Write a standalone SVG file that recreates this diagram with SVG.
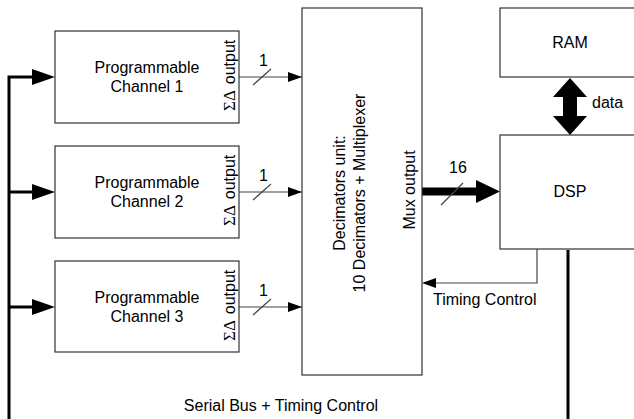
<svg xmlns="http://www.w3.org/2000/svg" width="634" height="419" viewBox="0 0 634 419">
<defs>
<style>
.box{fill:#fff;stroke:#333;stroke-width:1.2}
.t{font-family:"Liberation Sans",Arial,sans-serif;font-size:16px;fill:#000}
.s{font-family:"Liberation Serif","Times New Roman",serif;font-size:17px}
.c{text-anchor:middle}
.thin{fill:none;stroke:#444;stroke-width:1.2}
.bus{fill:none;stroke:#000;stroke-width:3}
</style>
<marker id="ah" markerWidth="14" markerHeight="10" refX="14" refY="5" orient="auto" markerUnits="userSpaceOnUse">
<path d="M0,0 L14,5 L0,10 Z" fill="#000"/>
</marker>
</defs>
<g id="connectors">
<path class="bus" d="M9,419 V77 H40"/>
<path d="M32,69 L55,77 L32,85 Z" fill="#000"/>
<path class="bus" d="M9,192 H40"/>
<path d="M32,184 L55,192 L32,200 Z" fill="#000"/>
<path class="bus" d="M9,307 H40"/>
<path d="M32,299 L55,307 L32,315 Z" fill="#000"/>
<path class="bus" d="M568,250 V419"/>
<line class="thin" x1="239" y1="77" x2="302" y2="77" marker-end="url(#ah)"/>
<line class="thin" x1="253" y1="85" x2="271" y2="69"/>
<text class="t" x="259" y="66">1</text>
<line class="thin" x1="239" y1="192" x2="302" y2="192" marker-end="url(#ah)"/>
<line class="thin" x1="253" y1="200" x2="271" y2="184"/>
<text class="t" x="259" y="181">1</text>
<line class="thin" x1="239" y1="307" x2="302" y2="307" marker-end="url(#ah)"/>
<line class="thin" x1="253" y1="315" x2="271" y2="299"/>
<text class="t" x="259" y="296">1</text>
<path d="M422,187.5 H476 V180 L500,191.5 L476,203 V195.5 H422 Z" fill="#000"/>
<line x1="441" y1="205" x2="463" y2="183" stroke="#444" stroke-width="1.2"/>
<text class="t" x="449" y="173">16</text>
<path d="M570,78 L587,97 L577,97 L577,116 L587,116 L570,135 L553,116 L563,116 L563,97 L553,97 Z" fill="#000"/>
<text class="t" x="592" y="108">data</text>
<path class="thin" d="M537,249 V283 H424"/>
<path d="M436,278 L422,283 L436,288 Z" fill="#000"/>
<text class="t" x="433" y="305">Timing Control</text>
<text class="t c" x="281" y="411">Serial Bus + Timing Control</text>
</g>
<g id="ch1">
<rect class="box" x="55" y="31" width="184" height="92"/>
<text class="t c" x="147" y="73">Programmable</text>
<text class="t c" x="147" y="92">Channel 1</text>
<text class="t" transform="translate(235,111) rotate(-90)"><tspan class="s">ΣΔ</tspan><tspan dx="6">output</tspan></text>
</g>
<g id="ch2">
<rect class="box" x="55" y="146" width="184" height="92"/>
<text class="t c" x="147" y="188">Programmable</text>
<text class="t c" x="147" y="207">Channel 2</text>
<text class="t" transform="translate(235,226) rotate(-90)"><tspan class="s">ΣΔ</tspan><tspan dx="6">output</tspan></text>
</g>
<g id="ch3">
<rect class="box" x="55" y="261" width="184" height="91"/>
<text class="t c" x="147" y="303">Programmable</text>
<text class="t c" x="147" y="322">Channel 3</text>
<text class="t" transform="translate(235,341) rotate(-90)"><tspan class="s">ΣΔ</tspan><tspan dx="6">output</tspan></text>
</g>
<g id="decimators">
<rect class="box" x="302" y="8" width="120" height="367"/>
<text class="t c" transform="translate(345,193) rotate(-90)">Decimators unit:</text>
<text class="t c" transform="translate(365,193) rotate(-90)">10 Decimators + Multiplexer</text>
<text class="t c" transform="translate(415,190) rotate(-90)">Mux output</text>
</g>
<g id="ram">
<rect class="box" x="500" y="8" width="140" height="69"/>
<text class="t c" x="570" y="48">RAM</text>
</g>
<g id="dsp">
<rect class="box" x="500" y="135" width="140" height="114"/>
<text class="t c" x="570" y="197">DSP</text>
</g>
</svg>
